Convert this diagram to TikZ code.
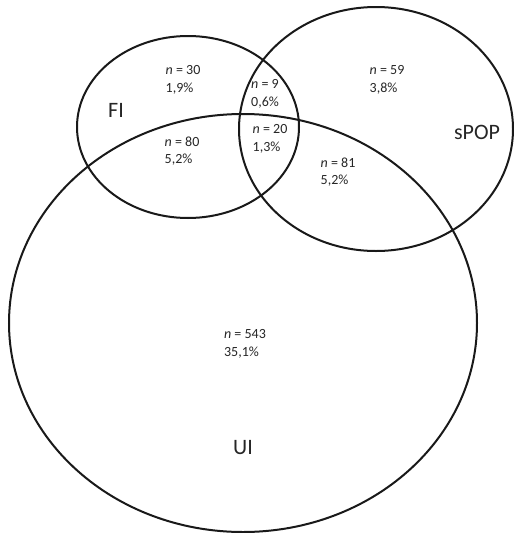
\documentclass[tikz,border=0pt]{standalone}
\usepackage{fontspec}
\setmainfont{Carlito}

\begin{document}
\begin{tikzpicture}[x=1pt,y=-1pt,
        set/.style={line width=2pt, color=black!90},
        count/.style={font=\fontsize{14}{17.5}\selectfont, align=left, inner sep=0pt, text=black!85},
        setname/.style={font=\fontsize{22}{26}\selectfont, inner sep=0pt, text=black!85}]

            \useasboundingbox (0,0) rectangle (514,533);

            % the three sets
            \draw[set] (188,127)   ellipse [x radius=111pt, y radius=91pt];
            \draw[set] (376,129)   ellipse [x radius=137pt, y radius=122pt];
            \draw[set] (243,323)   ellipse [x radius=234pt, y radius=209pt];

            % set names
            \node[setname] (fi)   at (116,110) {FI};
            \node[setname] (spop) at (477,132) {sPOP};
            \node[setname] (ui)   at (243,448) {UI};

            % counts per region
            \node[count] (fionly)   at (183,80)  {\textit{n} = 30\\1,9\%};
            \node[count] (fispop)   at (265,94)  {\textit{n} = 9\\0,6\%};
            \node[count] (spoponly) at (387,80)  {\textit{n} = 59\\3,8\%};
            \node[count] (fiui)     at (182,151) {\textit{n} = 80\\5,2\%};
            \node[count] (all)      at (270,139) {\textit{n} = 20\\1,3\%};
            \node[count] (spopui)   at (338,172) {\textit{n} = 81\\5,2\%};
            \node[count] (uionly)   at (245,344) {\textit{n} = 543\\35,1\%};

        \end{tikzpicture}
\end{document}
